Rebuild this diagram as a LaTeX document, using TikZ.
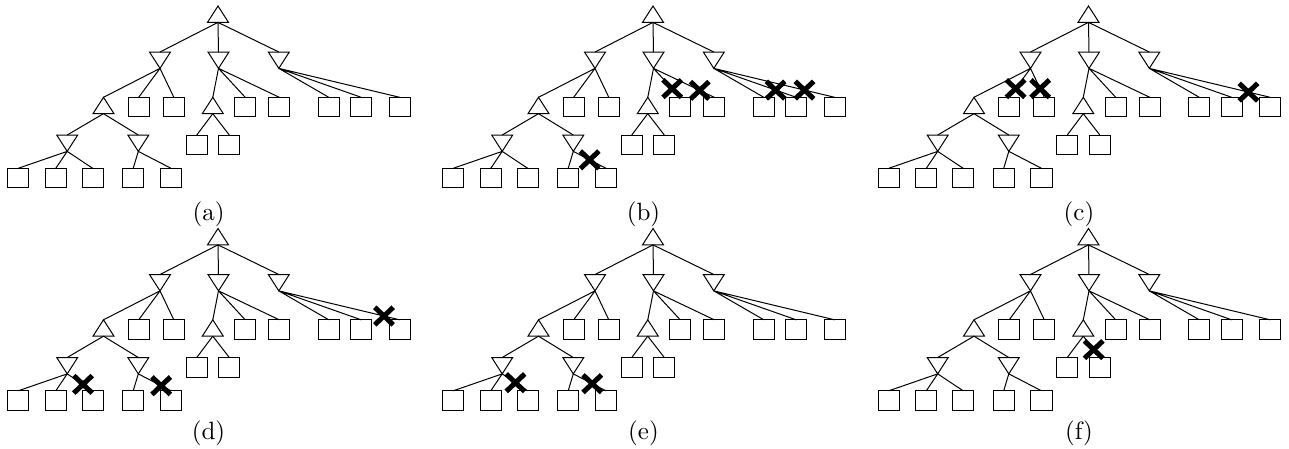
\documentclass[tikz,border=0pt]{standalone}
\usetikzlibrary{shapes.geometric,shapes.misc,calc}

\newcommand{\searchtree}{%
    \node[maxnode] (root) at (218,6) {};
    \node[minnode] (left) at (160,52) {};
    \node[minnode] (mid) at (218.5,52) {};
    \node[minnode] (right) at (278.8,52) {};
    \node[maxnode] (lt) at (103.5,97.3) {};
    \node[leaf] (l2) at (138.7,97.3) {};
    \node[leaf] (l3) at (173.8,97.3) {};
    \node[maxnode] (mt) at (212.8,97.3) {};
    \node[leaf] (m2) at (245.2,97.3) {};
    \node[leaf] (m3) at (279.3,97.3) {};
    \node[leaf] (r1) at (328.8,97.3) {};
    \node[leaf] (r2) at (361.2,97.3) {};
    \node[leaf] (r3) at (399.7,97.3) {};
    \node[minnode] (lta) at (67.2,135) {};
    \node[minnode] (ltb) at (138.3,135) {};
    \node[leaf] (c1) at (196.8,135) {};
    \node[leaf] (c2) at (229.3,135) {};
    \node[leaf] (a1) at (18.2,168.3) {};
    \node[leaf] (a2) at (55.8,168.3) {};
    \node[leaf] (a3) at (92.7,168.3) {};
    \node[leaf] (b1) at (133.2,168.3) {};
    \node[leaf] (b2) at (171,168.3) {};
    \draw (root.south) -- (left.north) (root.south) -- (mid.north) (root.south) -- (right.north);
    \draw (left.south) -- (lt.north) (left.south) -- (l2.north) (left.south) -- (l3.north);
    \draw (lt.south) -- (lta.north) (lt.south) -- (ltb.north);
    \draw (lta.south) -- (a1.north) (lta.south) -- (a2.north) (lta.south) -- (a3.north);
    \draw (ltb.south) -- (b1.north) (ltb.south) -- (b2.north);
    \draw (mid.south) -- (mt.north) (mid.south) -- (m2.north) (mid.south) -- (m3.north);
    \draw (mt.south) -- (c1.north) (mt.south) -- (c2.north);
    \draw (right.south) -- (r1.north) (right.south) -- (r2.north) (right.south) -- (r3.north);
}

\begin{document}
\begin{tikzpicture}[x=0.4pt,y=-0.4pt,
    maxnode/.style={draw,regular polygon,regular polygon sides=3,minimum size=9.7pt,
        inner sep=0pt,outer sep=0pt,yscale=0.9,anchor=north},
    minnode/.style={maxnode,shape border rotate=180},
    leaf/.style={draw,rectangle,minimum width=8.5pt,minimum height=7.8pt,
        inner sep=0pt,outer sep=0pt,anchor=north},
    cut/.style={cross out,draw,line width=2pt,minimum width=5.4pt,minimum height=5pt,inner sep=0pt},
    caption/.style={anchor=base}]
    \useasboundingbox (0,0) rectangle (1289,448);

    \begin{scope}[name prefix=a-]
        \searchtree
        \node[caption] (cap) at (208.5,220.4) {(a)};
    \end{scope}

    \begin{scope}[name prefix=b-,shift={(435,0)}]
        \searchtree
        \node[cut] (x1) at ($(mid.south)!0.7!(m2.north)$) {};
        \node[cut] (x2) at ($(mid.south)!0.76!(m3.north)$) {};
        \node[cut] (x3) at ($(right.south)!0.75!(r2.north)$) {};
        \node[cut] (x4) at ($(right.south)!0.75!(r3.north)$) {};
        \node[cut] (x5) at ($(ltb.south)!0.5!(b2.north)$) {};
        \node[caption] (cap) at (208.5,220.4) {(b)};
    \end{scope}

    \begin{scope}[name prefix=c-,shift={(870.5,0)}]
        \searchtree
        \node[cut] (x1) at ($(left.south)!0.7!(l2.north)$) {};
        \node[cut] (x2) at ($(left.south)!0.7!(l3.north)$) {};
        \node[cut] (x3) at ($(right.south)!0.82!(r3.north)$) {};
        \node[caption] (cap) at (208.5,220.4) {(c)};
    \end{scope}

    \begin{scope}[name prefix=d-,shift={(0,222.5)}]
        \searchtree
        \node[cut] (x1) at ($(right.south)!0.87!(r3.north)$) {};
        \node[cut] (x2) at ($(lta.south)!0.62!(a3.north)$) {};
        \node[cut] (x3) at ($(ltb.south)!0.7!(b2.north)$) {};
        \node[caption] (cap) at (208.5,217) {(d)};
    \end{scope}

    \begin{scope}[name prefix=e-,shift={(435,222.5)}]
        \searchtree
        \node[cut] (x1) at ($(lta.south)!0.52!(a3.north)$) {};
        \node[cut] (x2) at ($(ltb.south)!0.58!(b2.north)$) {};
        \node[caption] (cap) at (208.5,217) {(e)};
    \end{scope}

    \begin{scope}[name prefix=f-,shift={(870.5,222.5)}]
        \searchtree
        \node[cut] (x1) at ($(mt.south)!0.63!(c2.north)$) {};
        \node[caption] (cap) at (208.5,217) {(f)};
    \end{scope}
\end{tikzpicture}
\end{document}
